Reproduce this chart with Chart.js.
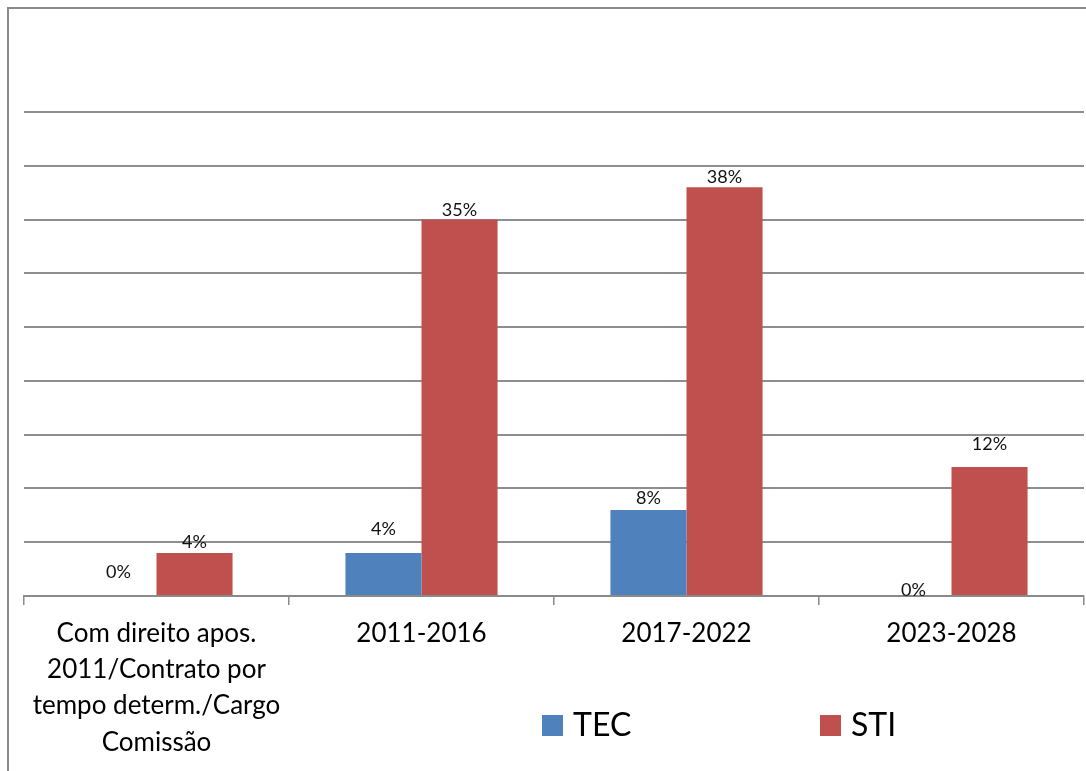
<!DOCTYPE html>
<html>
<head>
<meta charset="utf-8">
<script src="https://cdn.jsdelivr.net/npm/chart.js@4/dist/chart.umd.min.js"></script>
<style>
    html, body { margin: 0; padding: 0; overflow: hidden; background: #fff; }
    #frame {
        position: absolute; left: 7px; top: 7px; width: 1200px; height: 900px;
        border-left: 2px solid #8a8a8a; border-top: 2px solid #8a8a8a;
    }
    #wrap { position: absolute; left: 0; top: 0; width: 1086px; height: 771px; }
</style>
</head>
<body>
<div id="frame"></div>
<div id="wrap"><canvas id="chart"></canvas></div>
<script>
const categories = [
    ['Com direito apos.', '2011/Contrato por', 'tempo determ./Cargo', 'Comissão'],
    '2011-2016',
    '2017-2022',
    '2023-2028'
];
const tecValues = [0, 4, 8, 0];
const stiValues = [4, 35, 38, 12];
const yTicks = [0, 5, 10, 15, 20, 25, 30, 35, 40, 45];

// how far above each bar top the value label sits (px)
const tecLabelLift = [24, 24, 12, 6];
const stiLabelLift = [11, 9, 10, 23];

const FONT = 'Lato, "Open Sans", sans-serif';

const valueLabels = {
    id: 'valueLabels',
    afterDatasetsDraw(chart) {
        const ctx = chart.ctx;
        ctx.save();
        ctx.font = '18px ' + FONT;
        ctx.fillStyle = '#111';
        ctx.textAlign = 'center';
        ctx.textBaseline = 'middle';
        chart.data.datasets.forEach((ds, i) => {
            const lifts = i === 0 ? tecLabelLift : stiLabelLift;
            chart.getDatasetMeta(i).data.forEach((bar, j) => {
                ctx.fillText(ds.data[j] + '%', bar.x, bar.y - lifts[j]);
            });
        });
        ctx.restore();
    }
};

// legend sits inside the axis-label band, to the right
const bottomLegend = {
    id: 'bottomLegend',
    afterDraw(chart) {
        const ctx = chart.ctx;
        const starts = [542, 820];
        const y = 726;
        ctx.save();
        ctx.font = '32px ' + FONT;
        ctx.textBaseline = 'middle';
        chart.data.datasets.forEach((ds, i) => {
            ctx.fillStyle = ds.backgroundColor;
            ctx.fillRect(starts[i], y - 11, 21, 21);
            ctx.fillStyle = '#000';
            ctx.fillText(ds.label, starts[i] + 31, y);
        });
        ctx.restore();
    }
};

new Chart(document.getElementById('chart'), {
    type: 'bar',
    data: {
        labels: categories,
        datasets: [
            { label: 'TEC', data: tecValues, backgroundColor: '#4F81BD' },
            { label: 'STI', data: stiValues, backgroundColor: '#C0504D' }
        ]
    },
    options: {
        responsive: true,
        maintainAspectRatio: false,
        animation: false,
        categoryPercentage: 0.574,
        barPercentage: 1,
        layout: { padding: { left: 24, right: 2, top: 112, bottom: 0 } },
        plugins: {
            legend: { display: false },
            tooltip: { enabled: false }
        },
        scales: {
            x: {
                grid: {
                    offset: true,
                    drawOnChartArea: false,
                    tickLength: 9,
                    color: '#8a8a8a',
                    lineWidth: 1.5
                },
                border: { color: '#8a8a8a', width: 2 },
                ticks: {
                    maxRotation: 0,
                    autoSkip: false,
                    padding: 10,
                    color: '#000',
                    font: { family: FONT, size: 26, lineHeight: 1.4 }
                },
                afterFit(scale) { scale.height = 175; }
            },
            y: {
                min: 0,
                max: 45,
                afterBuildTicks(scale) {
                    scale.ticks = yTicks.map(v => ({ value: v }));
                },
                ticks: { display: false },
                grid: { color: '#8e8e8e', lineWidth: 2, drawTicks: false },
                border: { display: false }
            }
        }
    },
    plugins: [valueLabels, bottomLegend]
});
</script>
</body>
</html>
